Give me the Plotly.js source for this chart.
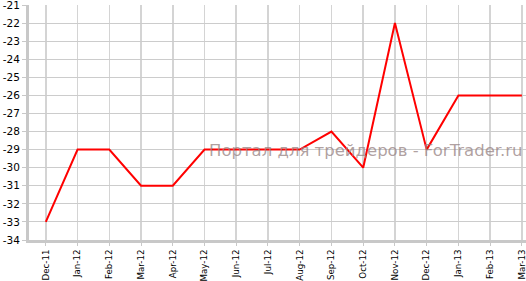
<!DOCTYPE html>
<html>
<head>
<meta charset="utf-8">
<script src="https://cdn.plot.ly/plotly-3.0.1.min.js"></script>
<style>html,body{margin:0;padding:0;background:#fff;}#chart{width:526px;height:281px;}</style>
</head>
<body>
<div id="chart"></div>
<script>
const months = ["Dec-11","Jan-12","Feb-12","Mar-12","Apr-12","May-12","Jun-12","Jul-12","Aug-12","Sep-12","Oct-12","Nov-12","Dec-12","Jan-13","Feb-13","Mar-13"];
const values = [-33,-29,-29,-31,-31,-29,-29,-29,-29,-28,-30,-22,-29,-26,-26,-26];
const yTicks = [-34,-33,-32,-31,-30,-29,-28,-27,-26,-25,-24,-23,-22,-21];
const yTickLabels = ["-34","-33","-32","-31","-30","-29","-28","-27","-26","-25","-24","-23","-22","-21"];
const watermark = "Портал для трейдеров - ForTrader.ru";

const idx = months.map((_, i) => i);
Plotly.newPlot("chart", [{
  x: idx, y: values, type: "scatter", mode: "lines",
  line: {color: "#ff0000", width: 2}
}], {
  width: 526, height: 281,
  margin: {l: 29, r: 0, t: 5, b: 41},
  paper_bgcolor: "#fff", plot_bgcolor: "#fff",
  showlegend: false,
  font: {family: "DejaVu Sans, Verdana, sans-serif", color: "#000"},
  xaxis: {
    range: [-0.53, 15.13], tickmode: "array", tickvals: idx, ticktext: months,
    tickangle: -90, tickfont: {size: 8.7}, automargin: false, ticklabeloverflow: "allow",
    showgrid: true, gridcolor: "#d4d4d4", gridwidth: 1.5,
    showline: true, linecolor: "#c8c8c8", linewidth: 3,
    ticks: "outside", ticklen: 3, tickcolor: "#c8c8c8", zeroline: false
  },
  yaxis: {
    range: [-34, -21], tickmode: "array", tickvals: yTicks, ticktext: yTickLabels,
    tickfont: {size: 10.5}, automargin: false, ticklabeloverflow: "allow",
    showgrid: true, gridcolor: "#cccccc", gridwidth: 1,
    showline: true, linecolor: "#c8c8c8", linewidth: 3,
    ticks: "outside", ticklen: 4, tickcolor: "#c8c8c8", zeroline: false
  },
  annotations: [{
    text: watermark, xref: "paper", yref: "paper", x: 0.678, y: 0.38,
    xanchor: "center", yanchor: "middle", showarrow: false,
    font: {size: 16.5, color: "rgba(150,130,130,0.75)", family: "DejaVu Sans, Verdana, sans-serif"}
  }]
}, {displayModeBar: false, staticPlot: true});
</script>
</body>
</html>
